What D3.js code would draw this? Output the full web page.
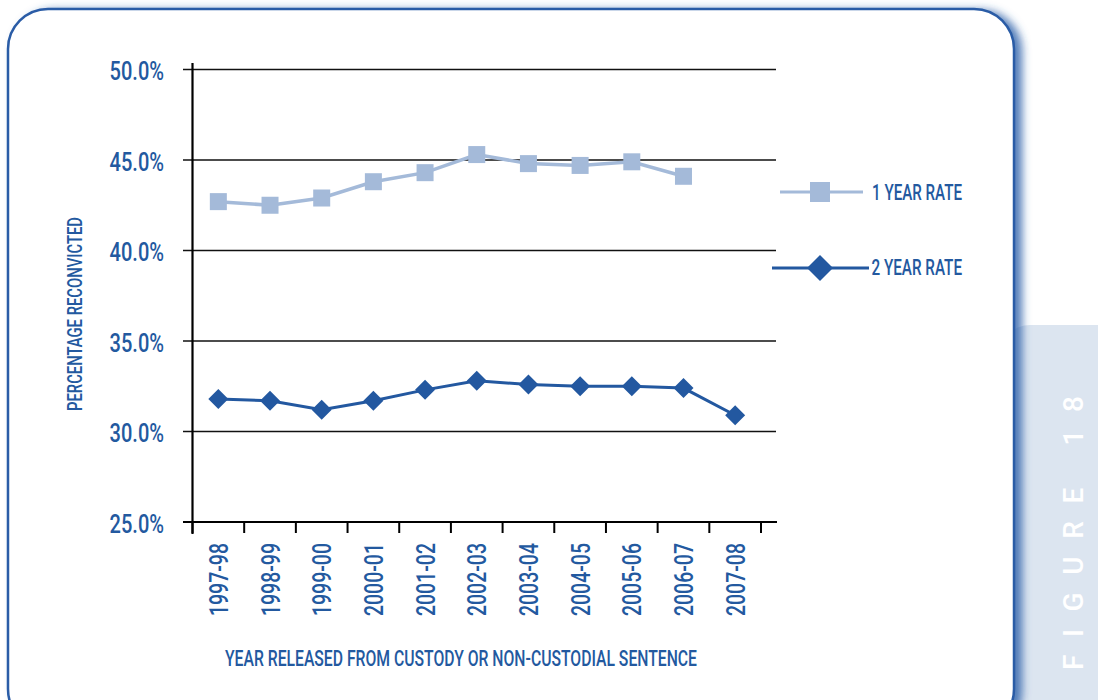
<!DOCTYPE html>
<html>
<head>
<meta charset="utf-8">
<script src="https://cdn.jsdelivr.net/npm/d3@7"></script>
<style>
  html, body { margin: 0; padding: 0; background: #ffffff; }
  svg { display: block; }
  text { font-family: Roboto, "Liberation Sans", Arial, sans-serif; font-weight: 500; }
</style>
</head>
<body>
<svg id="chart" width="1098" height="700"></svg>
<script>
// Reconviction rates by year of release
const years = ["1997-98", "1998-99", "1999-00", "2000-01", "2001-02", "2002-03",
               "2003-04", "2004-05", "2005-06", "2006-07", "2007-08"];
const oneYearRate = [42.7, 42.5, 42.9, 43.8, 44.3, 45.3, 44.8, 44.7, 44.9, 44.1, null];
const twoYearRate = [31.8, 31.7, 31.2, 31.7, 32.3, 32.8, 32.6, 32.5, 32.5, 32.4, 30.9];
const yTicks = [25, 30, 35, 40, 45, 50];
const seriesNames = ["1 YEAR RATE", "2 YEAR RATE"];

const blue = "#2358a0";
const lightBlue = "#a4bad9";
const textBlue = "#23599f";
const condense = 0.77;   // horizontal squeeze for the narrow lettering

const svg = d3.select("#chart");
const defs = svg.append("defs");

// soft blue shadow behind the panel frame
const shadow = defs.append("filter").attr("id", "frameShadow")
  .attr("x", "-5%").attr("y", "-5%").attr("width", "115%").attr("height", "115%");
shadow.append("feGaussianBlur").attr("in", "SourceAlpha").attr("stdDeviation", 4).attr("result", "b");
shadow.append("feOffset").attr("in", "b").attr("dx", 7).attr("dy", 2).attr("result", "o");
shadow.append("feFlood").attr("flood-color", "#2b5fa8").attr("flood-opacity", 0.8).attr("result", "c");
shadow.append("feComposite").attr("in", "c").attr("in2", "o").attr("operator", "in").attr("result", "s");
const merge = shadow.append("feMerge");
merge.append("feMergeNode").attr("in", "s");
merge.append("feMergeNode").attr("in", "SourceGraphic");

// side tab with the figure number
svg.append("rect")
  .attr("x", 1000).attr("y", 325).attr("width", 130).attr("height", 400)
  .attr("rx", 30).attr("ry", 30)
  .attr("fill", "#dce5f0");
svg.append("text")
  .attr("transform", "translate(1082.5,670) rotate(-90)")
  .attr("text-anchor", "start")
  .attr("fill", "#ffffff")
  .attr("font-size", 28)
  .attr("textLength", 274)
  .attr("lengthAdjust", "spacing")
  .text("FIGURE 18");

// main panel
svg.append("rect")
  .attr("x", 8).attr("y", 9).attr("width", 1006).attr("height", 720)
  .attr("rx", 40).attr("ry", 40)
  .attr("fill", "#ffffff")
  .attr("stroke", "#2a5ca6")
  .attr("stroke-width", 2.5)
  .attr("filter", "url(#frameShadow)");

// scales
const x = d3.scaleBand().domain(years).range([192.5, 761]).padding(0);
const y = d3.scaleLinear().domain([25, 50]).range([522, 69.5]);
const cx = d => x(d) + x.bandwidth() / 2;

// gridlines with their left tick stubs
svg.append("g")
  .selectAll("line")
  .data(yTicks)
  .join("line")
  .attr("x1", 183).attr("x2", 776)
  .attr("y1", d => y(d)).attr("y2", d => y(d))
  .attr("stroke", "#111").attr("stroke-width", 1.3);

// y tick labels
svg.append("g")
  .selectAll("text")
  .data(yTicks)
  .join("text")
  .attr("transform", d => `translate(164,${y(d) + 10.5}) scale(${condense},1)`)
  .attr("text-anchor", "end")
  .attr("fill", textBlue)
  .attr("font-size", 26)
  .text(d => d3.format(".1f")(d) + "%");

// axes lines
svg.append("line")
  .attr("x1", 192.5).attr("x2", 192.5).attr("y1", 63).attr("y2", 534)
  .attr("stroke", "#000").attr("stroke-width", 2.2);
svg.append("line")
  .attr("x1", 183).attr("x2", 777).attr("y1", y(25)).attr("y2", y(25))
  .attr("stroke", "#000").attr("stroke-width", 2.2);

// x tick marks at category boundaries
const boundaries = years.map(d => x(d)).concat([x(years[years.length - 1]) + x.bandwidth()]);
svg.append("g")
  .selectAll("line")
  .data(boundaries)
  .join("line")
  .attr("x1", d => d).attr("x2", d => d)
  .attr("y1", y(25)).attr("y2", y(25) + 11)
  .attr("stroke", "#000").attr("stroke-width", 2);

// x tick labels, rotated
svg.append("g")
  .selectAll("text")
  .data(years)
  .join("text")
  .attr("transform", d => `translate(${cx(d) + 9.5},543) rotate(-90) scale(${condense - 0.02},1)`)
  .attr("text-anchor", "end")
  .attr("fill", textBlue)
  .attr("font-size", 26)
  .text(d => d);

// axis titles
svg.append("text")
  .attr("transform", "translate(81.5,314) rotate(-90)")
  .attr("text-anchor", "middle")
  .attr("fill", textBlue)
  .attr("font-size", 19.5)
  .attr("textLength", 194)
  .attr("lengthAdjust", "spacingAndGlyphs")
  .text("PERCENTAGE RECONVICTED");
svg.append("text")
  .attr("x", 461).attr("y", 666)
  .attr("text-anchor", "middle")
  .attr("fill", textBlue)
  .attr("font-size", 22)
  .attr("textLength", 472)
  .attr("lengthAdjust", "spacingAndGlyphs")
  .text("YEAR RELEASED FROM CUSTODY OR NON-CUSTODIAL SENTENCE");

// series lines
const line = d3.line()
  .defined(d => d.v != null)
  .x(d => cx(d.year))
  .y(d => y(d.v));

const oneData = years.map((yr, i) => ({ year: yr, v: oneYearRate[i] }));
const twoData = years.map((yr, i) => ({ year: yr, v: twoYearRate[i] }));

svg.append("path").datum(oneData)
  .attr("d", line).attr("fill", "none")
  .attr("stroke", lightBlue).attr("stroke-width", 3.5);
svg.append("path").datum(twoData)
  .attr("d", line).attr("fill", "none")
  .attr("stroke", blue).attr("stroke-width", 3);

// markers
const sq = 17;
svg.append("g")
  .selectAll("rect")
  .data(oneData.filter(d => d.v != null))
  .join("rect")
  .attr("x", d => cx(d.year) - sq / 2)
  .attr("y", d => y(d.v) - sq / 2)
  .attr("width", sq).attr("height", sq)
  .attr("fill", lightBlue);

const diamond = r => `M0,${-r}L${r},0L0,${r}L${-r},0Z`;
svg.append("g")
  .selectAll("path")
  .data(twoData.filter(d => d.v != null))
  .join("path")
  .attr("transform", d => `translate(${cx(d.year)},${y(d.v)})`)
  .attr("d", diamond(10))
  .attr("fill", blue);

// legend
const legend = svg.append("g");
legend.append("line")
  .attr("x1", 780).attr("x2", 863).attr("y1", 192).attr("y2", 192)
  .attr("stroke", lightBlue).attr("stroke-width", 3);
legend.append("rect")
  .attr("x", 810).attr("y", 182).attr("width", 20).attr("height", 20)
  .attr("fill", lightBlue);
legend.append("text")
  .attr("x", 872).attr("y", 199.5)
  .attr("fill", textBlue).attr("font-size", 22)
  .attr("textLength", 90)
  .attr("lengthAdjust", "spacingAndGlyphs")
  .text(seriesNames[0]);

legend.append("line")
  .attr("x1", 772).attr("x2", 869).attr("y1", 268).attr("y2", 268)
  .attr("stroke", blue).attr("stroke-width", 3);
legend.append("path")
  .attr("transform", "translate(820,268)")
  .attr("d", diamond(13))
  .attr("fill", blue);
legend.append("text")
  .attr("x", 871.5).attr("y", 274.5)
  .attr("fill", textBlue).attr("font-size", 22)
  .attr("textLength", 90.5)
  .attr("lengthAdjust", "spacingAndGlyphs")
  .text(seriesNames[1]);
</script>
</body>
</html>
